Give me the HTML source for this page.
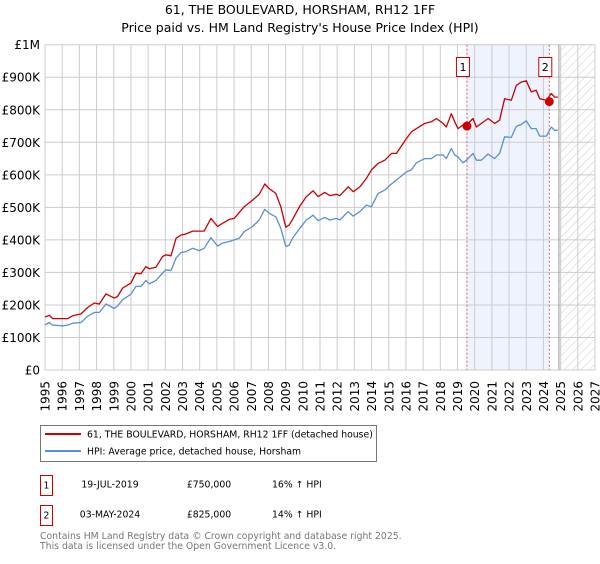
<!DOCTYPE html>
<html><head><meta charset="utf-8"><style>
body{margin:0;background:#fff;font-family:"DejaVu Sans","Liberation Sans",sans-serif;}
svg text{font-family:"DejaVu Sans","Liberation Sans",sans-serif;}
</style></head><body>
<svg id="c" width="600" height="560" xmlns="http://www.w3.org/2000/svg">
<defs><pattern id="hatch" width="6" height="6" patternUnits="userSpaceOnUse" patternTransform="rotate(45)"><line x1="0" y1="0" x2="0" y2="6" stroke="#ccc" stroke-width="1"/></pattern></defs>
<text x="300" y="14" text-anchor="middle" font-size="12.5">61, THE BOULEVARD, HORSHAM, RH12 1FF</text>
<text x="300" y="32" text-anchor="middle" font-size="12.5">Price paid vs. HM Land Registry's House Price Index (HPI)</text>
<g id="plot"></g>
<g>
<rect x="40.5" y="425.5" width="336" height="36" fill="#fff" stroke="#777"/>
<line x1="45" y1="434" x2="81" y2="434" stroke="#cc0000" stroke-width="2"/>
<text x="87" y="437.5" font-size="9.3">61, THE BOULEVARD, HORSHAM, RH12 1FF (detached house)</text>
<line x1="45" y1="451" x2="81" y2="451" stroke="#5b8fd4" stroke-width="2"/>
<text x="87" y="454.5" font-size="9.3">HPI: Average price, detached house, Horsham</text>
</g>
<g font-size="9.3">
<rect x="40.5" y="475.5" width="12" height="20" fill="#fff" stroke="#cc0000"/>
<text x="46.5" y="488.5" text-anchor="middle">1</text>
<text x="110" y="487.5" text-anchor="middle">19-JUL-2019</text>
<text x="209" y="487.5" text-anchor="middle">£750,000</text>
<text x="272" y="487.5">16% ↑ HPI</text>
<rect x="40.5" y="505.5" width="12" height="20" fill="#fff" stroke="#cc0000"/>
<text x="46.5" y="518.5" text-anchor="middle">2</text>
<text x="110" y="517.5" text-anchor="middle">03-MAY-2024</text>
<text x="209" y="517.5" text-anchor="middle">£825,000</text>
<text x="272" y="517.5">14% ↑ HPI</text>
</g>
<text x="40" y="539" font-size="9.3" fill="#777">Contains HM Land Registry data © Crown copyright and database right 2025.</text>
<text x="40" y="549" font-size="9.3" fill="#777">This data is licensed under the Open Government Licence v3.0.</text>
</svg>
<script>
const hpiYears=[1995.00,1995.25,1995.45,1996.03,1996.32,1996.61,1997.09,1997.48,1997.87,1998.16,1998.55,1999.03,1999.22,1999.52,2000.00,2000.29,2000.58,2000.87,2001.07,2001.45,2001.84,2002.03,2002.33,2002.62,2002.91,2003.20,2003.59,2003.97,2004.26,2004.65,2005.04,2005.33,2005.72,2006.01,2006.30,2006.59,2007.07,2007.46,2007.79,2008.04,2008.43,2008.72,2009.01,2009.21,2009.40,2009.83,2010.21,2010.60,2010.89,2011.28,2011.57,2011.96,2012.15,2012.64,2012.93,2013.32,2013.70,2013.99,2014.38,2014.77,2015.16,2015.45,2016.03,2016.32,2016.61,2017.09,2017.48,2017.77,2018.16,2018.35,2018.64,2018.84,2019.03,2019.32,2019.52,2019.90,2020.10,2020.39,2020.78,2021.16,2021.45,2021.74,2022.13,2022.42,2022.71,2023.00,2023.29,2023.58,2023.78,2024.17,2024.46,2024.65,2024.84];
const hpiValues=[139,146,138,136,138,144,146,165,177,177,203,189,197,216,233,257,257,275,265,275,298,308,306,344,361,364,374,367,374,407,381,390,395,400,405,425,441,461,494,482,471,436,380,384,405,436,461,476,459,469,461,466,461,487,473,487,507,502,543,553,572,584,609,615,637,650,650,661,661,650,681,661,655,637,645,666,645,645,664,650,666,717,715,749,755,766,742,742,719,719,747,737,737];
const priceValues=[163,168,158,158,158,167,172,192,206,203,234,221,226,252,267,298,296,318,311,316,349,354,351,405,415,418,427,427,427,466,441,451,463,466,484,502,522,540,572,558,543,502,439,446,463,504,533,551,533,546,536,540,536,563,548,563,589,615,635,645,666,666,712,732,742,758,763,773,758,747,788,763,742,753,753,773,747,758,773,758,768,834,829,875,885,889,855,860,834,829,850,839,839];
const saleYears=[2019.55,2024.34];
const saleValues=[750,825];
const saleLabels=["1","2"];
const yTicks=[0,100,200,300,400,500,600,700,800,900,1000];
const yTickLabels=["£0","£100K","£200K","£300K","£400K","£500K","£600K","£700K","£800K","£900K","£1M"];
const xTicks=[1995,1996,1997,1998,1999,2000,2001,2002,2003,2004,2005,2006,2007,2008,2009,2010,2011,2012,2013,2014,2015,2016,2017,2018,2019,2020,2021,2022,2023,2024,2025,2026,2027];
const dataEnd=2024.9;
const L=45,R=595,T=44.7,B=370;
const xs=y=>L+(y-1995)/(2027-1995)*(R-L);
const ys=v=>B-v/1000*(B-T);
const NS="http://www.w3.org/2000/svg";
const g=document.getElementById('plot');
function mk(tag,attrs,parent){const e=document.createElementNS(NS,tag);for(const k in attrs)e.setAttribute(k,attrs[k]);(parent||g).appendChild(e);return e;}
let sh=mk('rect',{x:xs(saleYears[0]),y:T,width:xs(saleYears[1])-xs(saleYears[0]),height:B-T,fill:'#eef3fd'});


let ht=mk('rect',{x:xs(dataEnd),y:T,width:R-xs(dataEnd),height:B-T,fill:'url(#hatch)'});


xTicks.forEach(t=>{
 let l=mk('line',{x1:xs(t),x2:xs(t),y1:T,y2:B,stroke:'#ccc','stroke-width':1});
 
 
 let tx=mk('text',{x:0,y:0,'font-size':12,'text-anchor':'end',transform:`translate(${xs(t)+4.5},${381}) rotate(-90)`});
 tx.textContent=t;
 
 
});
yTicks.forEach((t,i)=>{
 let l=mk('line',{x1:L,x2:R,y1:ys(t),y2:ys(t),stroke:'#ccc','stroke-width':1});
 
 
 let tx=mk('text',{x:40,y:ys(t)+4.5,'font-size':12,'text-anchor':'end'});
 tx.textContent=yTickLabels[i];
 
 
});
let dl=mk('line',{x1:xs(dataEnd),x2:xs(dataEnd),y1:T,y2:B,stroke:'#999','stroke-width':1});


saleYears.forEach((y,i)=>{
 let l=mk('line',{x1:xs(y),x2:xs(y),y1:T,y2:B,stroke:'#e06060','stroke-width':1,'stroke-dasharray':'2,2'});
 
 
});
function path(vals,color,name){
 let d=hpiYears.map((y,i)=>(i?'L':'M')+xs(y).toFixed(1)+','+ys(vals[i]).toFixed(1)).join('');
 let p=mk('path',{d:d,fill:'none',stroke:color,'stroke-width':1.3,'stroke-linejoin':'round'});
 
 
}
path(hpiValues,'#5b8fd4','hpi-line');
path(priceValues,'#cc0000','price-line');
saleYears.forEach((y,i)=>{
 let c=mk('circle',{cx:xs(y),cy:ys(saleValues[i]),r:4.5,fill:'#cc0000'});
 
 
 let bx=xs(y)-10.5;
 let r=mk('rect',{x:bx,y:57.5,width:13,height:19,fill:'#fff',stroke:'#cc0000'});
 
 
 let t=mk('text',{x:bx+6.5,y:71,'font-size':11,'text-anchor':'middle'});
 t.textContent=saleLabels[i];
 
 
});
</script>
</body></html>
